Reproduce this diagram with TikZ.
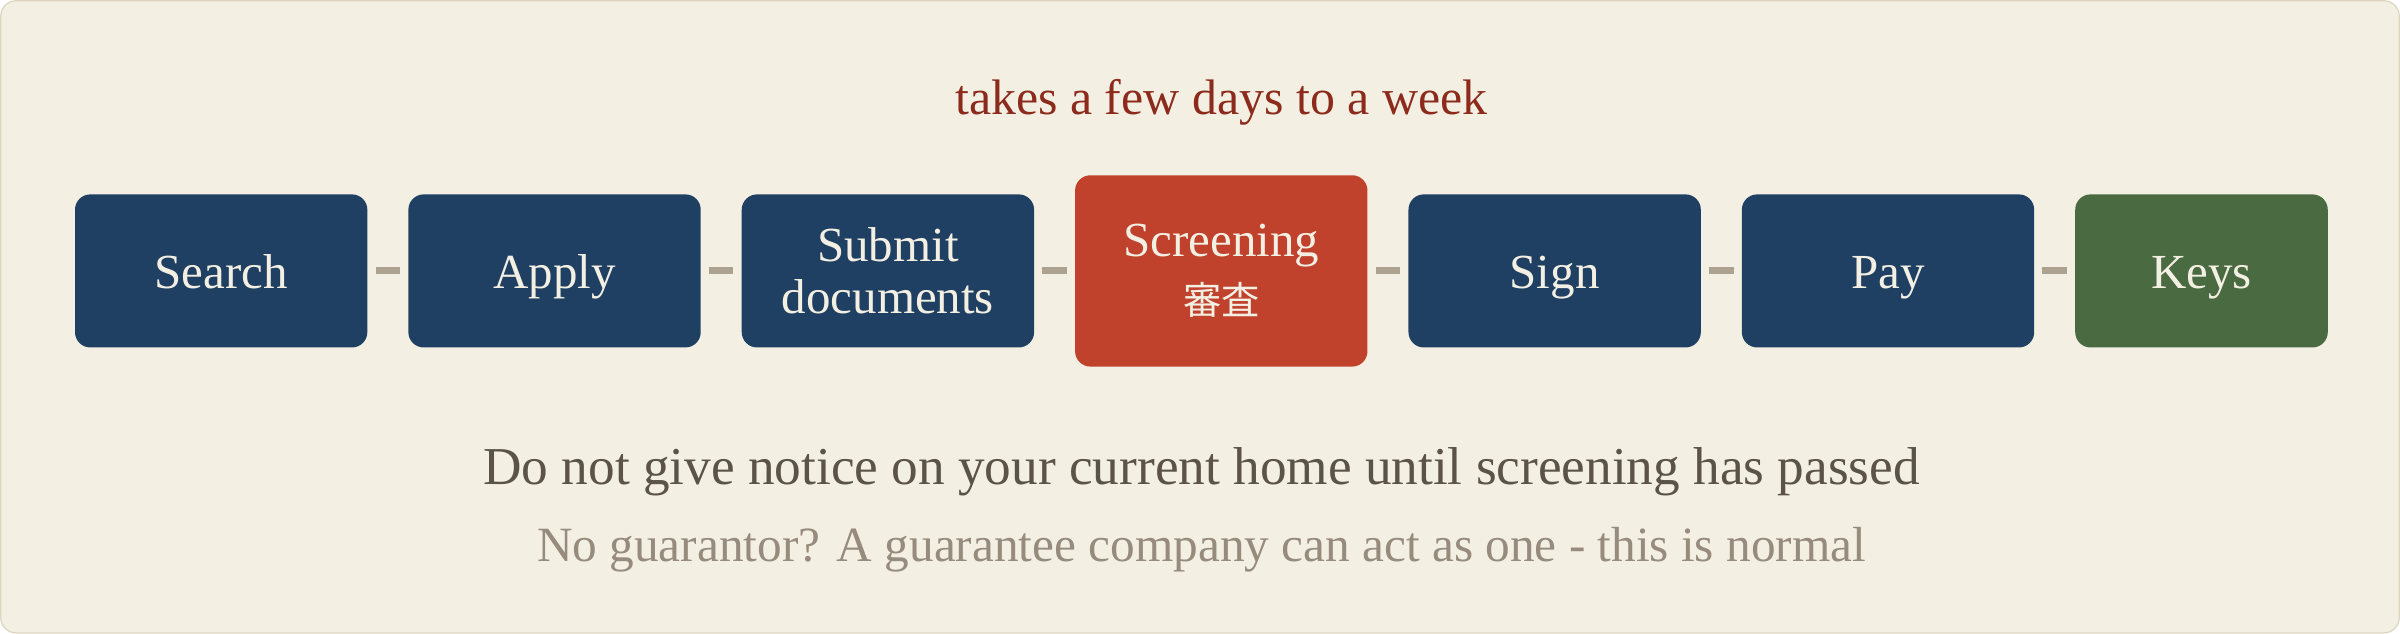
\documentclass[tikz,border=0pt]{standalone}
\usepackage{fontspec}
\setmainfont{Liberation Serif}
\newfontfamily\cjk{Noto Sans CJK JP}
\usetikzlibrary{positioning}

\definecolor{paper}{HTML}{F3EFE3}
\definecolor{rim}{HTML}{DDD5BE}
\definecolor{navy}{HTML}{1F4062}
\definecolor{brick}{HTML}{C0412C}
\definecolor{moss}{HTML}{4A6B42}
\definecolor{tie}{HTML}{ADA190}
\definecolor{rust}{HTML}{8C2B1C}
\definecolor{umber}{HTML}{5B5347}
\definecolor{taupe}{HTML}{968B7D}

\begin{document}
\begin{tikzpicture}[x=0.5pt, y=0.5pt, node distance=13pt,
	stage/.style={rectangle, rounded corners=5pt, fill=navy, text=paper, inner sep=0pt,
		minimum width=95.5pt, minimum height=50pt, align=center,
		font=\fontsize{16}{17}\selectfont},
	solo/.style={stage, text height=15pt, text depth=3.5pt},
	link/.style={draw=tie, line width=2.25pt, shorten >=2.5pt, shorten <=2.5pt}]
	\draw[rim, fill=paper, rounded corners=5pt] (0.5,0.5) rectangle (1567.5,413.5);
	\useasboundingbox (0,0) rectangle (1568,414);

	\node[solo] (search) at (144.5,237) {Search};
	\node[solo] (apply) [right=of search] {Apply};
	\node[stage] (submit) [right=of apply] {Submit\\documents};
	\node[stage, fill=brick, minimum height=62.5pt, font=\fontsize{16}{19}\selectfont] (screen) [right=of submit] {Screening\\{\cjk\fontsize{12.5}{13}\selectfont 審査}};
	\node[solo] (sign) [right=of screen] {Sign};
	\node[solo] (pay) [right=of sign] {Pay};
	\node[solo, fill=moss, minimum width=82.5pt] (keys) [right=of pay] {Keys};

	\node[text=rust, font=\fontsize{16.3}{17}\selectfont] (window) [above=12.5pt of screen] {takes a few days to a week};
	\node[text=umber, font=\fontsize{17.4}{20}\selectfont] (warning) at (785,106) {Do not give notice on your current home until screening has passed};
	\node[text=taupe, font=\fontsize{16.1}{18}\selectfont] (hint) at (785,55) {No guarantor? A guarantee company can act as one - this is normal};

	\path[link]
		(search) edge (apply)
		(apply) edge (submit)
		(submit) edge (screen)
		(screen) edge (sign)
		(sign) edge (pay)
		(pay) edge (keys)
	;
\end{tikzpicture}
\end{document}
